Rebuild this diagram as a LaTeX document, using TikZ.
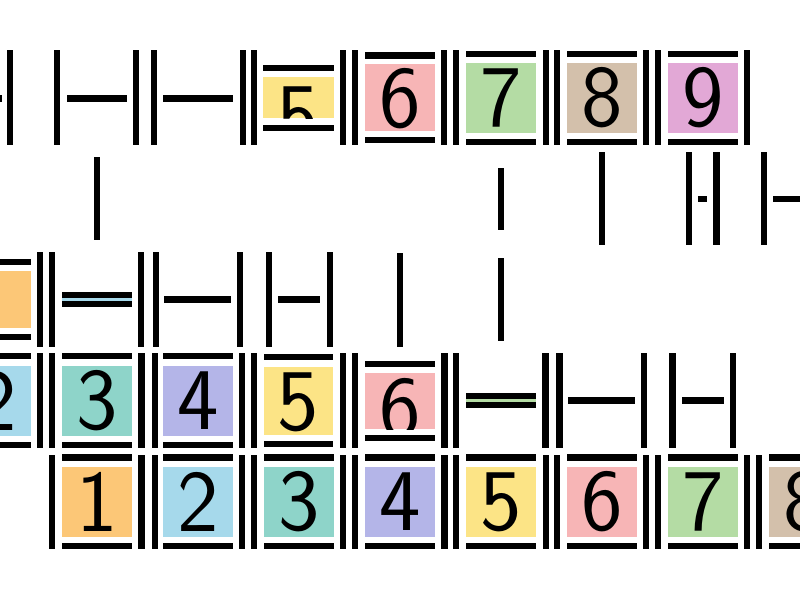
\documentclass[tikz,border=0pt]{standalone}
\usepackage{fontspec}
\definecolor{cOr}{HTML}{FCC777}
\definecolor{cBl}{HTML}{A6D9EB}
\definecolor{cTe}{HTML}{8ED4C9}
\definecolor{cLa}{HTML}{B4B5E8}
\definecolor{cYe}{HTML}{FCE486}
\definecolor{cPi}{HTML}{F7B5B6}
\definecolor{cGr}{HTML}{B4DCA4}
\definecolor{cTa}{HTML}{D3C0AB}
\definecolor{cMa}{HTML}{E2A8D6}
\tikzset{digitlabel/.style={font=\sffamily\fontsize{88}{90}\selectfont, inner sep=0pt, anchor=center, text=black}}
\newcommand\myV[3]{\fill (#1-3.25,#2) rectangle (#1+3.25,#3);}
\newcommand\myH[3]{\fill (#1,#3-3.25) rectangle (#2,#3+3.25);}
\newcommand\myTile[9]{%
  \begin{scope}
    \fill[#7] (#1,#4) rectangle (#2,#5);
    \clip (#1,#4) rectangle (#2,#5);
    \node[digitlabel] (t#8r#3) at ({(#1+#2)/2},#9) {#8};
  \end{scope}
  \myH{#1}{#2}{#3}\myH{#1}{#2}{#6}}
\newcommand\myFlat[4]{% x1 x2 ycenter color
  \fill[#4] (#1,#3-1.5) rectangle (#2,#3+1.5);
  \myH{#1}{#2}{#3-4.5}\myH{#1}{#2}{#3+4.5}}
\begin{document}
\begin{tikzpicture}[x=1pt,y=-1pt]
\useasboundingbox[fill=white] (0,0) rectangle (800,600);
% ---------- row 1 ----------
\myH{-30}{2}{98.5}
\myV{10}{50}{145}
\myV{57}{50}{145}
\myH{67}{127}{98.5}
\myV{136}{50}{145}
\myV{154}{50}{145}
\myH{163}{233}{98.5}
\myV{243}{50}{145}
\myV{254}{50}{145}
\myTile{263}{334}{68}{77}{118}{128}{cYe}{5}{116}
\myV{343}{50}{145}
\myV{355}{50}{145}
\myTile{365}{435}{55.5}{64}{131}{140}{cPi}{6}{99}
\myV{444}{50}{145}
\myV{456}{50}{145}
\myTile{466}{536}{54}{63}{133}{142}{cGr}{7}{98}
\myV{546}{50}{145}
\myV{557}{50}{145}
\myTile{567}{637}{54}{63}{133}{142}{cTa}{8}{98}
\myV{646}{50}{145}
\myV{658}{50}{145}
\myTile{668}{738}{54}{63}{133}{142}{cMa}{9}{98}
\myV{747}{50}{145}
% ---------- row 2 ----------
\myV{97}{157}{240}
\myV{501}{168}{230}
\myV{602}{152}{245}
\myV{689}{152}{245}
\fill (698,196) rectangle (707,202);
\myV{716.5}{152}{245}
\myV{764}{152}{245}
\myH{773}{830}{199}
% ---------- row 3 ----------
\myTile{-39}{31}{262}{271}{328}{337}{cOr}{1}{309}
\myV{40}{252}{347}
\myV{52}{252}{347}
\myFlat{62}{132}{299.5}{cBl}
\myV{141}{252}{347}
\myV{156}{252}{347}
\myH{164}{231}{299.5}
\myV{240}{252}{347}
\myV{269}{252}{347}
\myH{278}{320}{299.5}
\myV{330}{252}{347}
\myV{400}{253}{347}
\myV{501}{258}{341}
% ---------- row 4 ----------
\myTile{-39}{31}{356}{366}{436}{445}{cBl}{2}{401}
\myV{40}{353}{448}
\myV{52}{353}{448}
\myTile{62}{132}{356}{366}{436}{445}{cTe}{3}{401}
\myV{141.5}{353}{448}
\myV{155}{353}{448}
\myTile{163}{233}{356}{366}{436}{445}{cLa}{4}{401}
\myV{242}{353}{448}
\myV{254}{353}{448}
\myTile{264}{333}{357}{367}{435}{444}{cYe}{5}{402}
\myV{343}{353}{448}
\myV{355}{353}{448}
\myTile{365}{435}{364}{373}{429}{438}{cPi}{6}{409}
\myV{444.5}{353}{448}
\myV{456}{353}{448}
\myFlat{466}{536}{400.5}{cGr}
\myV{545.5}{353}{448}
\myV{559.5}{353}{448}
\myH{568}{635}{400.5}
\myV{644}{353}{448}
\myV{672.5}{353}{448}
\myH{682}{724}{400.5}
\myV{733}{353}{448}
% ---------- row 5 ----------
\myV{52}{455}{549}
\myTile{62}{132}{457.5}{467}{537}{546}{cOr}{1}{502}
\myV{141.5}{455}{549}
\myV{155}{455}{549}
\myTile{163}{233}{457.5}{467}{537}{546}{cBl}{2}{502}
\myV{242}{455}{549}
\myV{254}{455}{549}
\myTile{264}{334}{457.5}{467}{537}{546}{cTe}{3}{502}
\myV{343}{455}{549}
\myV{355}{455}{549}
\myTile{365}{435}{457.5}{467}{537}{546}{cLa}{4}{502}
\myV{444.5}{455}{549}
\myV{456}{455}{549}
\myTile{466}{536}{457.5}{467}{537}{546}{cYe}{5}{502}
\myV{546}{455}{549}
\myV{557}{455}{549}
\myTile{567}{637}{457.5}{467}{537}{546}{cPi}{6}{502}
\myV{646}{455}{549}
\myV{658}{455}{549}
\myTile{668}{738}{457.5}{467}{537}{546}{cGr}{7}{502}
\myV{747}{455}{549}
\myV{759}{455}{549}
\myTile{769}{839}{457.5}{467}{537}{546}{cTa}{8}{502}
\end{tikzpicture}
\end{document}
